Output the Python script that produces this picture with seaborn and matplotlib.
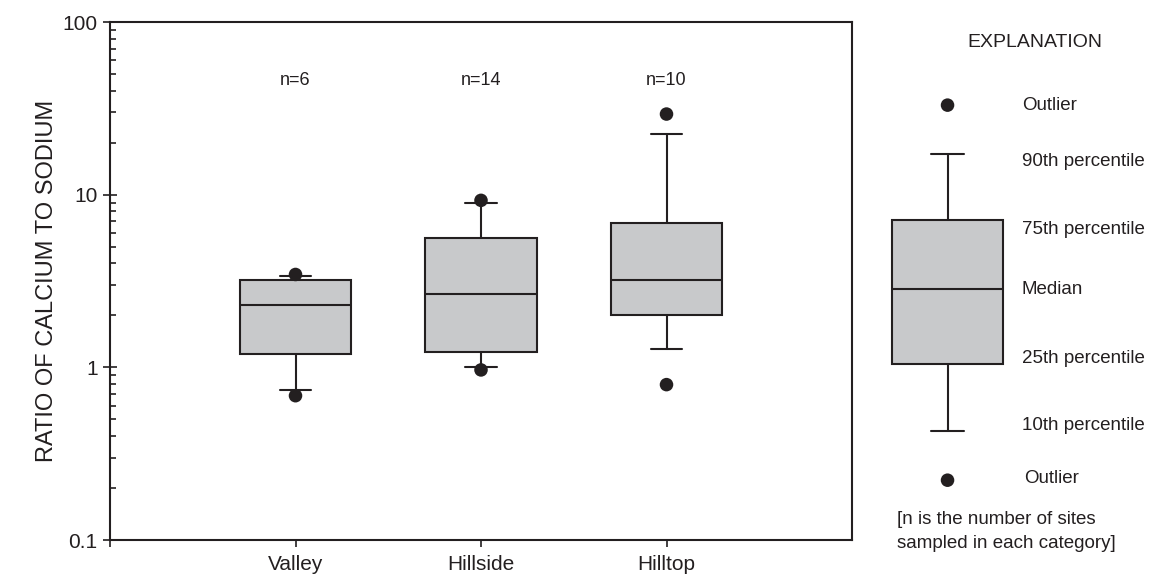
import matplotlib
matplotlib.use("Agg")
import matplotlib.pyplot as plt
from matplotlib.ticker import FixedLocator, NullFormatter, LogLocator
import numpy as np
import seaborn as sns

# data (percentiles of the ratio)
categories = ["Valley", "Hillside", "Hilltop"]
n_sites = [6, 14, 10]
p10 = [0.74, 1.01, 1.27]
p25 = [1.20, 1.23, 2.00]
p50 = [2.30, 2.67, 3.22]
p75 = [3.22, 5.64, 6.85]
p90 = [3.37, 8.95, 22.4]
outlier_cat = ["Valley", "Valley", "Hillside", "Hillside", "Hilltop", "Hilltop"]
outlier_val = [3.45, 0.685, 9.27, 0.966, 29.3, 0.794]

# explanation key (illustrative box)
key_labels = ["10th percentile", "25th percentile", "Median", "75th percentile", "90th percentile"]
key_vals = [0.43, 1.04, 2.83, 7.17, 17.1]
key_outliers = [33.0, 0.222]

ink = "#231f20"
fill = "#c8c9cb"

sns.set_style("ticks")
plt.rcParams["font.family"] = ["Liberation Sans", "DejaVu Sans"]
plt.rcParams["text.color"] = ink

fig = plt.figure(figsize=(11.49, 5.80), dpi=100)
ax = fig.add_axes([110 / 1149, 40 / 580, 742 / 1149, 518 / 580])

box_kw = dict(widths=0.6, capwidths=0.17, showfliers=False, patch_artist=True,
              boxprops=dict(facecolor=fill, edgecolor=ink, linewidth=1.5),
              medianprops=dict(color=ink, linewidth=1.5),
              whiskerprops=dict(color=ink, linewidth=1.5),
              capprops=dict(color=ink, linewidth=1.5))

stats = []
for i, c in enumerate(categories):
    stats.append(dict(label=c, whislo=p10[i], q1=p25[i], med=p50[i], q3=p75[i], whishi=p90[i], fliers=[]))
ax.bxp(stats, positions=range(len(categories)), **box_kw)

sns.scatterplot(x=[categories.index(c) for c in outlier_cat], y=outlier_val, s=95,
                color=ink, edgecolor="none", ax=ax, zorder=4, legend=False)

ax.set_yscale("log")
ax.set_ylim(0.1, 100)
ax.set_xlim(-1, 3)
ax.yaxis.set_major_locator(FixedLocator([0.1, 1, 10, 100]))
ax.set_yticklabels(["0.1", "1", "10", "100"])
ax.yaxis.set_minor_locator(LogLocator(base=10, subs=np.arange(2, 10)))
ax.yaxis.set_minor_formatter(NullFormatter())
ax.set_xticks([-1, 0, 1, 2])
ax.set_xticklabels([""] + categories)
ax.tick_params(axis="y", which="major", direction="inout", length=10, width=1.2,
               color=ink, labelsize=15, labelcolor=ink, pad=4)
ax.tick_params(axis="y", which="minor", direction="in", length=4, width=1.2, color=ink)
ax.tick_params(axis="x", which="major", direction="out", length=5, width=1.2,
               color=ink, labelsize=15, labelcolor=ink, pad=6)
for s in ax.spines.values():
    s.set_color(ink)
    s.set_linewidth(1.5)
ax.set_ylabel("RATIO OF CALCIUM TO SODIUM", fontsize=17, color=ink, labelpad=3)
ax.set_xlabel("")

for i, n in enumerate(n_sites):
    ax.text(i, 0.887, f"n={n}", transform=ax.get_xaxis_transform(),
            ha="center", va="center", fontsize=13)

# explanation panel
kx = fig.add_axes([852 / 1149, 40 / 580, 297 / 1149, 518 / 580])
kx.set_yscale("log")
kx.set_ylim(0.1, 100)
kx.set_xlim(3, 3 + 297 / 185.5)
kx.axis("off")
key_pos = 3.515
kx.bxp([dict(whislo=key_vals[0], q1=key_vals[1], med=key_vals[2], q3=key_vals[3],
             whishi=key_vals[4], fliers=[])], positions=[key_pos],
       widths=0.6, capwidths=0.18, showfliers=False, patch_artist=True,
       boxprops=box_kw["boxprops"], medianprops=box_kw["medianprops"],
       whiskerprops=box_kw["whiskerprops"], capprops=box_kw["capprops"])
sns.scatterplot(x=[key_pos] * len(key_outliers), y=key_outliers, s=95, color=ink,
                edgecolor="none", ax=kx, legend=False, zorder=4)
# label nudges (points) so the text sits where the original puts it
key_nudge = [3.5, 4.5, 0, -7, -5]
for lab, v, dy in zip(key_labels, key_vals, key_nudge):
    kx.annotate(lab, (3.916, v), xytext=(0, dy), textcoords="offset points",
                ha="left", va="center", fontsize=13.5)
kx.annotate("Outlier", (3.916, key_outliers[0]), xytext=(0, 0), textcoords="offset points",
            ha="left", va="center", fontsize=13.5)
kx.annotate("Outlier", (3.93, key_outliers[1]), xytext=(0, 1), textcoords="offset points",
            ha="left", va="center", fontsize=13.5)
kx.text(0.616, 0.961, "EXPLANATION", transform=kx.transAxes, ha="center", va="center", fontsize=14)
fig.text(897 / 1149, 1 - 511 / 580, "[n is the number of sites\nsampled in each category]",
         ha="left", va="top", fontsize=13.5, linespacing=1.55, color=ink)

fig.savefig("out.png", dpi=100)
